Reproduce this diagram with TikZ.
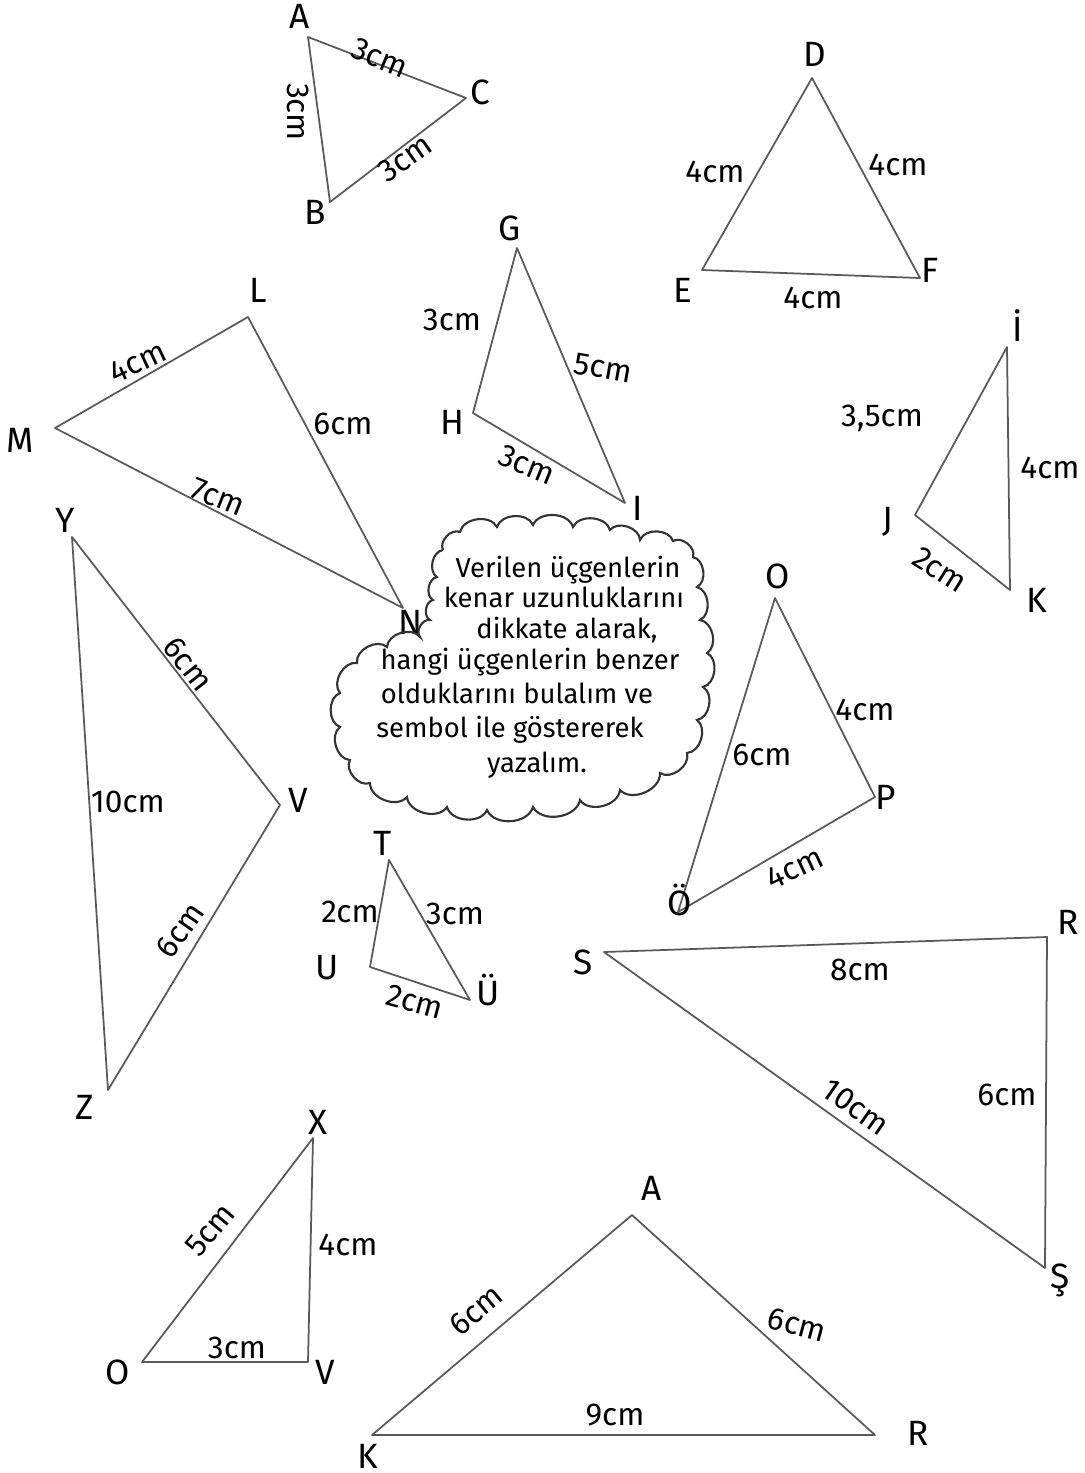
\documentclass[tikz,border=0pt]{standalone}
\usepackage{fontspec}
\setmainfont{Fira Sans}
\usepackage{tikz}

\begin{document}
\begin{tikzpicture}[x=0.1mm,y=-0.1mm,
  side/.style={draw=black!65,line width=0.5pt,line join=round},
  vlab/.style={font=\normalsize,inner sep=1pt},
  len/.style={font=\small,inner sep=1pt},
  puff/.style={draw=black!80,line width=0.6pt},
  noteline/.style={font=\fontsize{7.8}{9}\selectfont,inner sep=0pt,anchor=base}]
  \useasboundingbox (0,0) rectangle (1085,1473);
  % Triangle ABC
  \coordinate (A1) at (308,37);
  \coordinate (B1) at (330,202);
  \coordinate (C1) at (466,98);
  \draw[side] (A1) -- (C1) -- (B1) -- cycle;
  \node[vlab] (lA1) at (300,16) {A};
  \node[vlab] (lB1) at (315,212) {B};
  \node[vlab] (lC1) at (480,92) {C};
  \node[len,rotate=-22] (sAC) at (380,58) {3cm};
  \node[len,rotate=-90] (sAB) at (298,112) {3cm};
  \node[len,rotate=35] (sBC) at (405,158) {3cm};
  % Triangle DEF
  \coordinate (D1) at (812,78);
  \coordinate (E1) at (702,270);
  \coordinate (F1) at (920,278);
  \draw[side] (D1) -- (F1) -- (E1) -- cycle;
  \node[vlab] (lD1) at (815,54) {D};
  \node[vlab] (lE1) at (683,290) {E};
  \node[vlab] (lF1) at (930,270) {F};
  \node[len] (sDE) at (715,172) {4cm};
  \node[len] (sDF) at (898,165) {4cm};
  \node[len] (sEF) at (813,298) {4cm};
  % Triangle GHI
  \coordinate (G1) at (517,248);
  \coordinate (H1) at (473,413);
  \coordinate (I1) at (625,503);
  \draw[side] (G1) -- (I1) -- (H1) -- cycle;
  \node[vlab] (lG1) at (510,228) {G};
  \node[vlab] (lH1) at (452,422) {H};
  \node[vlab] (lI1) at (638,508) {I};
  \node[len] (sGH) at (452,320) {3cm};
  \node[len,rotate=-10] (sGI) at (603,368) {5cm};
  \node[len,rotate=-22] (sHI) at (527,465) {3cm};
  % Triangle LMN
  \coordinate (L1) at (248,317);
  \coordinate (M1) at (55,428);
  \coordinate (N1) at (403,608);
  \draw[side] (L1) -- (N1) -- (M1) -- cycle;
  \node[vlab] (lL1) at (258,290) {L};
  \node[vlab] (lM1) at (20,440) {M};
  \node[vlab] (lN1) at (411,622) {N};
  \node[len,rotate=25] (sLM) at (138,362) {4cm};
  \node[len] (sLN) at (343,424) {6cm};
  \node[len,rotate=-22] (sMN) at (218,497) {7cm};
  % Triangle IJK
  \coordinate (I2) at (1007,347);
  \coordinate (J2) at (915,515);
  \coordinate (K2) at (1010,590);
  \draw[side] (I2) -- (K2) -- (J2) -- cycle;
  \node[vlab] (lI2) at (1018,326) {İ};
  \node[vlab] (lJ2) at (888,522) {J};
  \node[vlab] (lK2) at (1037,600) {K};
  \node[len] (sIJ) at (882,418) {3,5cm};
  \node[len] (sIK) at (1050,468) {4cm};
  \node[len,rotate=-32] (sJK) at (940,570) {2cm};
  % Note cloud
  \draw[puff] (443,550) to[bend left=70] (460,532) to[bend left=70] (497,527)
    to[bend left=70] (533,525) to[bend left=70] (573,527) to[bend left=70] (610,530)
    to[bend left=70] (640,540) to[bend left=70] (673,541) to[bend left=70] (693,557)
    to[bend left=70] (697,587) to[bend left=70] (700,620) to[bend left=70] (707,653)
    to[bend left=70] (703,687) to[bend left=70] (697,720) to[bend left=70] (687,753)
    to[bend left=70] (660,773) to[bend left=70] (620,790) to[bend left=70] (580,800)
    to[bend left=70] (533,807) to[bend left=70] (487,810) to[bend left=70] (447,807)
    to[bend left=70] (407,797) to[bend left=70] (370,783) to[bend left=70] (350,760)
    to[bend left=70] (340,727) to[bend left=70] (340,693) to[bend left=70] (357,663)
    to[bend left=70] (387,647) to[bend left=70] (420,637) to[bend left=70] (430,620)
    to[bend left=70] (433,600) to[bend left=70] (437,577) to[bend left=70] (443,550);
  \node[noteline] (nl1) at (568,577) {Verilen üçgenlerin};
  \node[noteline] (nl2) at (564,607) {kenar uzunluklarını};
  \node[noteline] (nl3) at (567,638) {dikkate alarak,};
  \node[noteline] (nl4) at (530,669) {hangi üçgenlerin benzer};
  \node[noteline] (nl5) at (517,703) {olduklarını bulalım ve};
  \node[noteline] (nl6) at (510,737) {sembol ile göstererek};
  \node[noteline] (nl7) at (537,772) {yazalım.};
  % Triangle OPÖ
  \coordinate (O1) at (775,598);
  \coordinate (P1) at (875,797);
  \coordinate (O2) at (678,912);
  \draw[side] (O1) -- (P1) -- (O2) -- cycle;
  \node[vlab] (lO1) at (778,576) {O};
  \node[vlab] (lP1) at (886,797) {P};
  \node[vlab] (lO2) at (680,900) {Ö};
  \node[len] (sOP) at (865,710) {4cm};
  \node[len] (sOO) at (762,755) {6cm};
  \node[len,rotate=25] (sPO) at (795,868) {4cm};
  % Triangle YVZ
  \coordinate (Y1) at (72,537);
  \coordinate (V1) at (280,805);
  \coordinate (Z1) at (108,1090);
  \draw[side] (Y1) -- (V1) -- (Z1) -- cycle;
  \node[vlab] (lY1) at (65,520) {Y};
  \node[vlab] (lV1) at (298,800) {V};
  \node[vlab] (lZ1) at (85,1107) {Z};
  \node[len,rotate=-52] (sYV) at (188,664) {6cm};
  \node[len] (sYZ) at (128,802) {10cm};
  \node[len,rotate=55] (sVZ) at (180,930) {6cm};
  % Triangle TUÜ
  \coordinate (T1) at (389,860);
  \coordinate (U1) at (370,967);
  \coordinate (U2) at (470,1000);
  \draw[side] (T1) -- (U2) -- (U1) -- cycle;
  \node[vlab] (lT1) at (383,843) {T};
  \node[vlab] (lU1) at (327,968) {U};
  \node[vlab] (lU2) at (488,990) {Ü};
  \node[len] (sTU) at (350,912) {2cm};
  \node[len] (sTU2) at (455,914) {3cm};
  \node[len,rotate=-15] (sUU) at (415,1002) {2cm};
  % Triangle SRŞ
  \coordinate (S1) at (604,952);
  \coordinate (R1) at (1047,937);
  \coordinate (S2) at (1045,1268);
  \draw[side] (S1) -- (R1) -- (S2) -- cycle;
  \node[vlab] (lS1) at (583,962) {S};
  \node[vlab] (lR1) at (1068,922) {R};
  \node[vlab] (lS2) at (1060,1280) {Ş};
  \node[len] (sSR) at (860,970) {8cm};
  \node[len,rotate=-35] (sSS) at (856,1107) {10cm};
  \node[len] (sRS) at (1007,1095) {6cm};
  % Triangle XOV
  \coordinate (X1) at (313,1138);
  \coordinate (O3) at (142,1362);
  \coordinate (V2) at (308,1362);
  \draw[side] (X1) -- (V2) -- (O3) -- cycle;
  \node[vlab] (lX1) at (318,1122) {X};
  \node[vlab] (lO3) at (118,1372) {O};
  \node[vlab] (lV2) at (325,1372) {V};
  \node[len,rotate=50] (sXO) at (210,1230) {5cm};
  \node[len] (sXV) at (348,1245) {4cm};
  \node[len] (sOV) at (237,1348) {3cm};
  % Triangle AKR
  \coordinate (A2) at (632,1215);
  \coordinate (K3) at (372,1435);
  \coordinate (R2) at (875,1435);
  \draw[side] (A2) -- (R2) -- (K3) -- cycle;
  \node[vlab] (lA2) at (652,1188) {A};
  \node[vlab] (lK3) at (368,1456) {K};
  \node[vlab] (lR2) at (918,1433) {R};
  \node[len,rotate=40] (sAK) at (476,1310) {6cm};
  \node[len,rotate=-15] (sAR) at (797,1325) {6cm};
  \node[len] (sKR) at (615,1415) {9cm};
\end{tikzpicture}
\end{document}
